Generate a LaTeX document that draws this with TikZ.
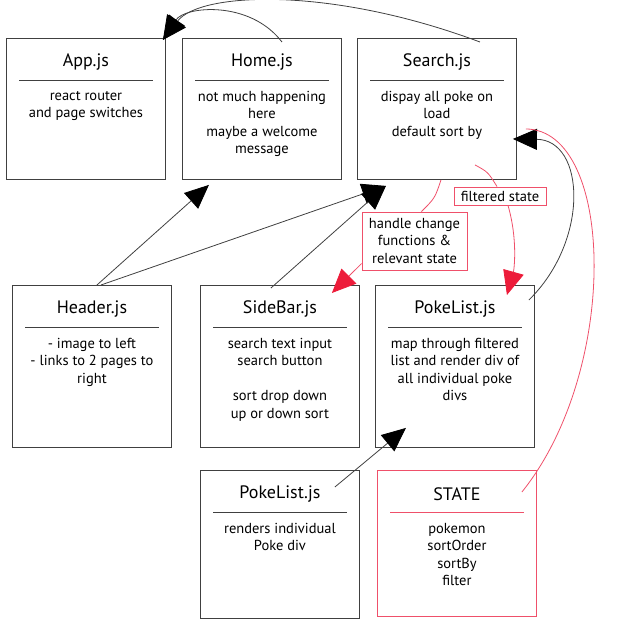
\documentclass[tikz,border=0pt]{standalone}
\usepackage{fontspec}
\setmainfont{PT Sans}
\usetikzlibrary{arrows.meta}
\definecolor{pinkline}{RGB}{239,80,106}
\definecolor{redtip}{RGB}{237,28,58}
\definecolor{boxgray}{RGB}{64,64,64}
\newcommand\Comp[7][boxgray]{%
  \node[comp,draw=#1,minimum height=#5] (#2) at (#3,#4) {};
  \node[comptitle] (#2t) at ([yshift=-24pt]#2.north) {#6};
  \draw[#1,line width=0.9pt] ([xshift=13pt,yshift=-42pt]#2.north west) -- ([xshift=-13pt,yshift=-42pt]#2.north east);
  \node[compbody] (#2b) at ([yshift=-53pt]#2.north) {#7};}

\begin{document}
\begin{tikzpicture}[x=1pt,y=-1pt,
    comp/.style={rectangle,line width=0.9pt,minimum width=159pt,anchor=north west,inner sep=0pt},
    comptitle/.style={font=\fontsize{18}{21}\selectfont},
    compbody/.style={anchor=north,align=center,inner sep=0pt,font=\fontsize{14.5}{17.5}\selectfont},
    note/.style={draw=pinkline,line width=0.9pt,align=center,inner sep=0pt,font=\fontsize{14.5}{17.5}\selectfont},
    tip/.style={boxgray,line width=0.8pt,-{Triangle[length=24pt,width=21pt,color=black]}},
    redarrow/.style={pinkline,line width=0.8pt,-{Triangle[length=24pt,width=21pt,color=redtip]}}]
  \useasboundingbox (0,0) rectangle (621,626);
  \Comp{app}{6}{38}{141pt}{App.js}{react router\\and page switches}
  \Comp{home}{182}{38}{141pt}{Home.js}{not much happening\\here\\maybe a welcome\\message}
  \Comp{search}{357}{38}{141pt}{Search.js}{dispay all poke on\\load\\default sort by}
  \Comp{header}{12}{285}{162pt}{Header.js}{- image to left\\- links to 2 pages to\\right}
  \Comp{sidebar}{200}{285}{162pt}{SideBar.js}{search text input\\search button\\[17.5pt]sort drop down\\up or down sort}
  \Comp{pokelist}{375}{285}{162pt}{PokeList.js}{map through filtered\\list and render div of\\all individual poke\\divs}
  \Comp{pokediv}{200}{470}{148pt}{PokeList.js}{renders individual\\Poke div}
  \Comp[pinkline]{state}{377}{470}{146pt}{STATE}{pokemon\\sortOrder\\sortBy\\filter}
  \node[note,minimum width=92pt,minimum height=18pt] (filt) at (500,196) {filtered state};
  \node[note,minimum width=105pt,minimum height=58pt] (hc) at (414.5,241) {handle change\\functions \&\\relevant state};

  \draw[tip] ([xshift=20pt,yshift=-4pt]home.north) .. controls (250,0) and (185,6) .. ([xshift=-3pt,yshift=-2pt]app.north east);
  \draw[tip] ([xshift=43pt,yshift=-4pt]search.north) .. controls (330,-14) and (200,-8) .. ([xshift=-3pt,yshift=-2pt]app.north east);
  \draw[tip] ([xshift=5pt]header.north) -- ([xshift=-53pt,yshift=-5pt]home.south);
  \draw[tip] ([xshift=9pt]header.north) -- ([xshift=-51pt,yshift=-6pt]search.south);
  \draw[tip] ([xshift=-9pt,yshift=-3pt]sidebar.north) -- ([xshift=-51pt,yshift=-6pt]search.south);
  \draw[tip] ([xshift=-25pt,yshift=-17pt]pokediv.north east) -- ([xshift=31pt,yshift=20pt]pokelist.south west);
  \draw[tip] ([xshift=-6pt,yshift=-15pt]pokelist.north east) .. controls (590,240) and (585,140) .. ([xshift=-4pt,yshift=-30pt]search.east);

  \draw[pinkline,line width=0.8pt] ([xshift=4pt]search.south) .. controls (435,198) .. ([xshift=7pt]hc.north);
  \draw[redarrow] ([yshift=-52pt]hc.north west) -- ([xshift=-28pt,yshift=-8pt]sidebar.north east);
  \draw[pinkline,line width=0.8pt] ([xshift=38pt,yshift=15pt]search.south) .. controls (488,172) .. ([xshift=-3pt]filt.north);
  \draw[redarrow] ([xshift=8pt]filt.south) .. controls (518,240) and (514,270) .. ([xshift=52pt,yshift=-10pt]pokelist.north);
  \draw[pinkline,line width=0.8pt] ([xshift=-15pt,yshift=-22pt]state.north east) .. controls (620,370) and (615,130) .. ([xshift=9pt,yshift=-20pt]search.east);
\end{tikzpicture}
\end{document}
